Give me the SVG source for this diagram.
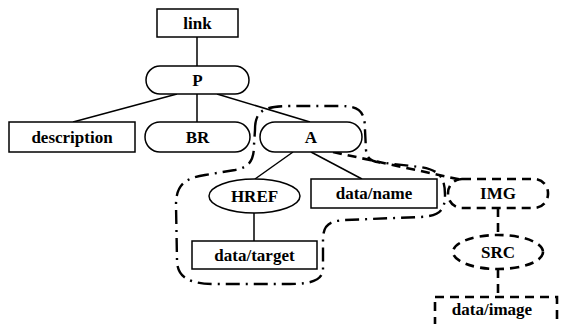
<svg xmlns="http://www.w3.org/2000/svg" width="561" height="324" viewBox="0 0 561 324">
<style>
.n{fill:#fff;stroke:#000;stroke-width:1.5}
.d{fill:none;stroke:#000;stroke-width:2.6;stroke-dasharray:9 6}
.t{font-family:"Liberation Serif","Times New Roman",serif;font-weight:bold;font-size:17px;text-anchor:middle;fill:#000}
.c{stroke:#000;stroke-width:1.5;fill:none}
.cd{stroke:#000;stroke-width:2.6;fill:none;stroke-dasharray:9 6}
.g{fill:none;stroke:#000;stroke-width:2.4;stroke-dasharray:14 6 2 6}
</style>
<rect width="561" height="324" fill="#fff"/>
<g id="connectors">
<line class="c" x1="197" y1="37" x2="197" y2="66"/>
<line class="c" x1="177" y1="94" x2="73" y2="122"/>
<line class="c" x1="197" y1="94" x2="197" y2="122"/>
<line class="c" x1="217" y1="94" x2="310" y2="122"/>
<line class="c" x1="293" y1="152" x2="255" y2="179"/>
<line class="c" x1="311" y1="152" x2="362" y2="179"/>
<line class="c" x1="254" y1="213" x2="254" y2="241"/>
<line class="cd" x1="333" y1="152" x2="462" y2="180"/>
<line class="cd" x1="498" y1="208" x2="498" y2="235"/>
<line class="cd" x1="498" y1="269" x2="498" y2="297"/>
</g>
<g id="group-outline">
<path class="g" d="M255,130 C255,112 262,106 290,106 L340,106 C360,106 365,112 365,130 L366,150 C367,160 372,162 385,163 L420,167 C440,170 445,178 445,195 C445,212 438,216 420,217 L345,220 C328,221 323,226 323,240 L323,270 C322,280 312,284 290,284 L215,284 C190,284 177,278 177,260 L176,205 C176,185 185,178 205,175 L235,170 C250,167 254,160 254,145 Z"/>
</g>
<g id="link"><rect class="n" x="157" y="9" width="81" height="28"/><text class="t" x="197.5" y="28.5">link</text></g>
<g id="P"><rect class="n" x="146" y="66" width="103" height="28" rx="14"/><text class="t" x="197.5" y="85.5">P</text></g>
<g id="description"><rect class="n" x="9" y="122" width="126" height="30"/><text class="t" x="72" y="142.5">description</text></g>
<g id="BR"><rect class="n" x="145" y="122" width="105" height="30" rx="15"/><text class="t" x="197.5" y="142.5">BR</text></g>
<g id="A"><rect class="n" x="260" y="122" width="102" height="30" rx="15"/><text class="t" x="311" y="142.5">A</text></g>
<g id="HREF"><ellipse class="n" cx="254.5" cy="196" rx="45.5" ry="17"/><text class="t" x="254.5" y="201.5">HREF</text></g>
<g id="data-name"><rect class="n" x="311" y="179" width="126" height="29"/><text class="t" x="374" y="199">data/name</text></g>
<g id="data-target"><rect class="n" x="192" y="241" width="125" height="28"/><text class="t" x="254.5" y="260.5">data/target</text></g>
<g id="IMG"><rect class="d" x="448" y="179" width="100" height="29" rx="14"/><text class="t" x="498" y="199">IMG</text></g>
<g id="SRC"><ellipse class="d" cx="498" cy="252" rx="45" ry="17"/><text class="t" x="498" y="257.5">SRC</text></g>
<g id="data-image"><rect class="d" x="435" y="297" width="122" height="50"/><text class="t" x="492" y="315">data/image</text></g>
</svg>
